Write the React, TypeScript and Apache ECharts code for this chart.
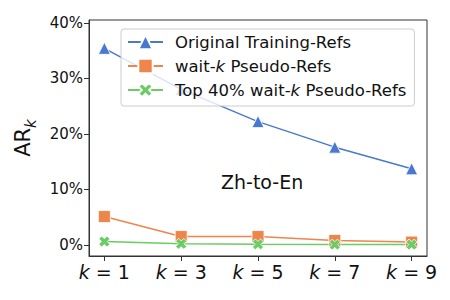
import React, { useEffect, useRef } from "react";
import * as echarts from "echarts";

const kLabels = ["1", "3", "5", "7", "9"];
const seriesNames = ["Original Training-Refs", "wait-k Pseudo-Refs", "Top 40% wait-k Pseudo-Refs"];
const originalRefs = [35.4, 28.0, 22.2, 17.6, 13.7];
const waitKRefs = [5.1, 1.5, 1.5, 0.8, 0.5];
const top40Refs = [0.6, 0.2, 0.1, 0.05, 0.05];
const yTicks = [0, 10, 20, 30, 40];
const colors = ["#4878d0", "#ee854a", "#6acc64"];

const FONT = "DejaVu Sans";
const xPath = "path://M0 2.6 L2.6 0 L5 2.4 L7.4 0 L10 2.6 L7.6 5 L10 7.4 L7.4 10 L5 7.6 L2.6 10 L0 7.4 L2.4 5 Z";

export default function App() {
  const ref = useRef<HTMLDivElement>(null);
  useEffect(() => {
    const chart = echarts.init(ref.current!, null, { renderer: "svg" });
    const mk = (vals: number[]) => vals.map((v, i) => [i, v]);
    const symbols = ["triangle", "rect", xPath];
    const sizes = [12, 12, 11];
    const datas = [originalRefs, waitKRefs, top40Refs];
    chart.setOption({
      animation: false,
      textStyle: { fontFamily: FONT },
      grid: { left: 89, right: 23, top: 20, bottom: 44, show: true, borderColor: "#333", borderWidth: 1 },
      xAxis: {
        type: "value",
        min: -0.2,
        max: 4.2,
        splitLine: { show: false },
        axisLine: { show: true, onZero: false, lineStyle: { color: "#333", width: 1 } },
        axisTick: { show: true, customValues: [0, 1, 2, 3, 4], length: 5, lineStyle: { color: "#333" } },
        axisLabel: {
          customValues: [0, 1, 2, 3, 4],
          margin: 6,
          formatter: (v: number) => `{i|k}{n| = ${kLabels[Math.round(v)]}}`,
          rich: {
            i: { fontFamily: FONT, fontStyle: "italic", fontSize: 19, color: "#111" },
            n: { fontFamily: FONT, fontSize: 19, color: "#111" },
          },
        },
      },
      yAxis: {
        type: "value",
        min: -2,
        max: 40.5,
        splitLine: { show: false },
        axisLine: { show: true, onZero: false, lineStyle: { color: "#333", width: 1 } },
        axisTick: { show: true, customValues: yTicks, length: 5, lineStyle: { color: "#333" } },
        axisLabel: {
          customValues: yTicks,
          formatter: "{value}%",
          fontSize: 15,
          color: "#111",
          fontFamily: FONT,
          margin: 6,
        },
        name: "{a|AR}{s|k}",
        nameLocation: "middle",
        nameGap: 52,
        nameTextStyle: {
          rich: {
            a: { fontFamily: FONT, fontSize: 21, color: "#111", verticalAlign: "bottom" },
            s: { fontFamily: FONT, fontSize: 15, fontStyle: "italic", color: "#111", verticalAlign: "bottom", padding: [0, 0, -5, 0] },
          },
        },
      },
      legend: {
        orient: "vertical",
        left: 121,
        top: 29,
        width: 297,
        padding: [3, 8, 6, 6],
        itemGap: 4,
        itemWidth: 35,
        itemHeight: 18,
        backgroundColor: "rgba(255,255,255,0.8)",
        borderColor: "#cccccc",
        borderWidth: 1,
        borderRadius: 3,
        data: seriesNames,
        formatter: (name: string) => {
          const parts = name.split("wait-k");
          if (parts.length === 1) return `{n|${name}}`;
          return `{n|${parts[0]}wait-}{i|k}{n|${parts[1]}}`;
        },
        textStyle: {
          lineHeight: 20,
          padding: [0, 0, 0, 7],
          rich: {
            n: { fontFamily: FONT, fontSize: 16.5, color: "#111" },
            i: { fontFamily: FONT, fontSize: 16.5, fontStyle: "italic", color: "#111" },
          },
        },
      },
      graphic: [
        {
          type: "text",
          left: 262 - 41,
          top: 183 - 11,
          style: { text: "Zh-to-En", fontFamily: FONT, fontSize: 19, fill: "#111" },
        },
      ],
      series: seriesNames.map((name, i) => ({
        name,
        type: "line",
        data: mk(datas[i]),
        symbol: symbols[i],
        symbolSize: sizes[i],
        symbolKeepAspect: true,
        color: colors[i],
        lineStyle: { width: 1.5, color: colors[i] },
        itemStyle: { color: colors[i], borderColor: "#fff", borderWidth: 0.8 },
        z: 2,
      })),
    });
    return () => chart.dispose();
  }, []);
  return <div ref={ref} style={{ width: 450, height: 300, margin: -8 }} />;
}
